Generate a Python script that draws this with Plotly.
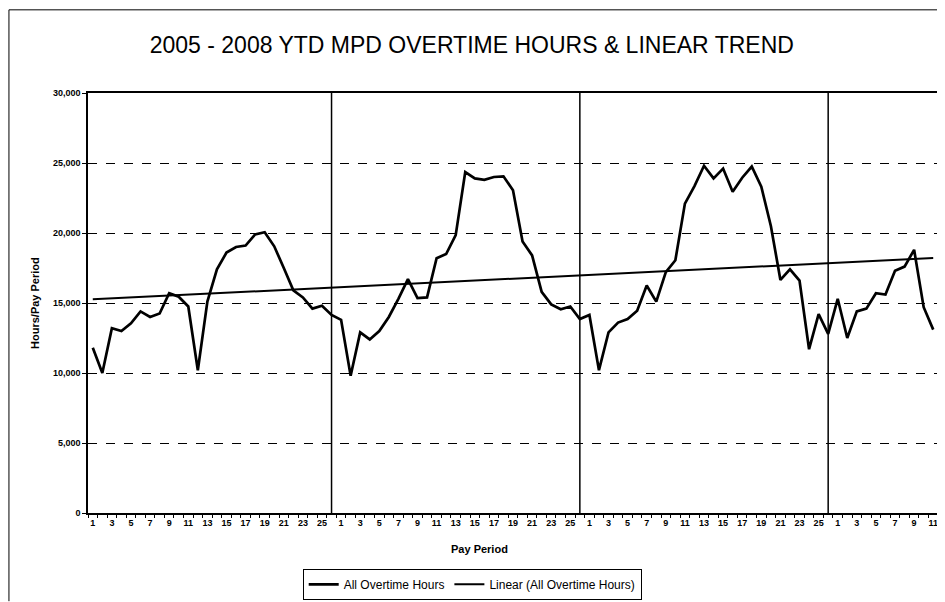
import numpy as np
import plotly.graph_objects as go

# Pay period labels (2005, 2006, 2007: 26 periods each; 2008 YTD: 11 periods)
periods = list(range(1, 27)) * 3 + list(range(1, 12))

hours_2005 = [11800, 10000, 13200, 13000, 13550, 14400, 14000, 14250, 15700, 15450,
              14750, 10200, 15100, 17400, 18600, 19000, 19100, 19900, 20050, 19050,
              17500, 15900, 15400, 14600, 14800, 14150]
hours_2006 = [13800, 9800, 12900, 12400, 13000, 14000, 15300, 16700, 15350, 15400,
              18200, 18500, 19850, 24350, 23900, 23800, 24000, 24050, 23050, 19400,
              18400, 15800, 14900, 14550, 14750, 13850]
hours_2007 = [14150, 10200, 12900, 13600, 13850, 14450, 16250, 15100, 17200, 18050,
              22100, 23350, 24800, 23900, 24600, 22950, 23950, 24750, 23300, 20500,
              16650, 17400, 16600, 11700, 14200, 12800]
hours_2008 = [15300, 12500, 14400, 14600, 15700, 15600, 17300, 17600, 18800, 14700,
              13100]

y_ticks = [0, 5000, 10000, 15000, 20000, 25000, 30000]
y_ticklabels = ["0", "5,000", "10,000", "15,000", "20,000", "25,000", "30,000"]

hours = hours_2005 + hours_2006 + hours_2007 + hours_2008
idx = np.arange(1, len(hours) + 1)

# Linear trend (least squares) of all overtime hours
slope, intercept = np.polyfit(idx, hours, 1)
trend = intercept + slope * idx

# year boundaries (last period of each full year)
year_ends = [26, 52, 78]

tickvals = [int(i) for i, p in zip(idx, periods) if p % 2 == 1]
ticktext = ["<b>%d</b>" % p for p in periods if p % 2 == 1]

FONT = "Liberation Sans, Arial, sans-serif"

fig = go.Figure()
fig.add_trace(go.Scatter(x=idx, y=hours, mode="lines", name="All Overtime Hours",
                         line=dict(color="black", width=2.7)))
fig.add_trace(go.Scatter(x=idx, y=trend, mode="lines", name="Linear (All Overtime Hours)",
                         line=dict(color="black", width=2)))

for ye in year_ends:
    fig.add_shape(type="line", xref="x", yref="paper", x0=ye, x1=ye, y0=0, y1=1,
                  line=dict(color="black", width=1.5), layer="below")

# outer chart border (left and top)
fig.add_shape(type="line", xref="paper", yref="paper", x0=-0.093, x1=-0.093, y0=-0.21, y1=1.198,
              line=dict(color="black", width=1))
fig.add_shape(type="line", xref="paper", yref="paper", x0=-0.093, x1=1.01, y0=1.198, y1=1.198,
              line=dict(color="black", width=1))

# axis titles
fig.add_annotation(text="<b>Hours/Pay Period</b>", xref="paper", yref="paper",
                   x=-0.0624, y=0.5, textangle=-90, showarrow=False,
                   xanchor="center", yanchor="middle", font=dict(size=11, family=FONT))
fig.add_annotation(text="<b>Pay Period</b>", xref="paper", yref="paper",
                   x=0.46, y=-0.0857, showarrow=False,
                   xanchor="center", yanchor="middle", font=dict(size=11, family=FONT))

fig.update_layout(
    width=937, height=594,
    margin=dict(l=80, r=7, t=85, b=89, autoexpand=False),
    paper_bgcolor="white", plot_bgcolor="white",
    font=dict(family=FONT, color="black"),
    title=dict(text="2005 - 2008 YTD MPD OVERTIME HOURS & LINEAR TREND",
               x=0.495, xanchor="center", y=0.938, yanchor="middle", yref="container",
               font=dict(size=23, family=FONT, color="black")),
    showlegend=True,
    legend=dict(orientation="h", x=0.452, xanchor="center", y=-0.133, yanchor="top",
                bordercolor="black", borderwidth=1, bgcolor="white",
                font=dict(size=12, family=FONT), itemwidth=30),
    xaxis=dict(range=[0.5, len(hours) + 0.5], tickmode="array", tickvals=tickvals,
               ticktext=ticktext, ticks="", showgrid=False, zeroline=False, automargin=False,
               showline=True, linecolor="black", linewidth=1.5, mirror=True,
               tickfont=dict(size=9, family=FONT), tickangle=0,
               minor=dict(tickmode="array", tickvals=[i + 0.5 for i in range(0, len(hours) + 1)],
                          ticks="outside", ticklen=3, tickcolor="black", showgrid=False)),
    yaxis=dict(range=[0, 30000], tickmode="array", tickvals=y_ticks,
               ticktext=["<b>%s</b>" % t for t in y_ticklabels], automargin=False,
               ticks="outside", ticklen=4, tickcolor="black",
               showgrid=True, gridcolor="black", griddash="dash", gridwidth=1,
               zeroline=False, showline=True, linecolor="black", linewidth=1.5, mirror=True,
               tickfont=dict(size=9, family=FONT)),
)

fig.write_html("out.html")
